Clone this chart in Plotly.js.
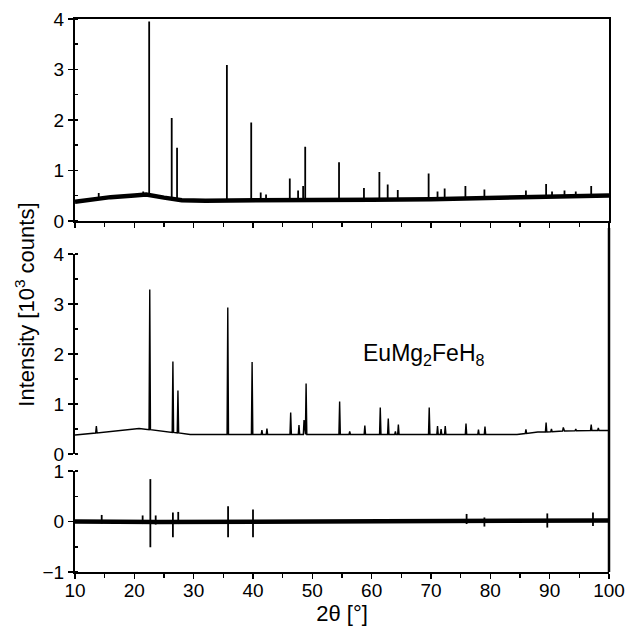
<!DOCTYPE html>
<html>
<head>
<meta charset="utf-8">
<script src="https://cdn.plot.ly/plotly-3.0.1.min.js"></script>
<style>html,body{margin:0;padding:0;background:#fff;}#chart{width:626px;height:628px;}</style>
</head>
<body>
<div id="chart"></div>
<script>
// ---- Observed pattern (top panel) ----
const obsBgX = [10, 13, 16, 20, 22, 25, 28, 32, 40, 50, 60, 70, 80, 85, 88, 92, 96, 100];
const obsBgY = [0.38, 0.42, 0.47, 0.50, 0.52, 0.46, 0.41, 0.40, 0.40, 0.41, 0.42, 0.43, 0.45, 0.46, 0.48, 0.49, 0.50, 0.50];
const obsPeakX = [14.0, 21.5, 22.5, 26.3, 27.2, 35.6, 39.7, 41.3, 42.2, 46.2, 47.6, 48.45, 48.8, 54.5, 58.7, 61.3, 62.7, 64.4, 69.6, 71.1, 72.3, 75.8, 79.0, 86.0, 89.4, 90.4, 92.5, 94.4, 97.0];
const obsPeakY = [0.55, 0.58, 3.95, 2.04, 1.45, 3.09, 1.95, 0.56, 0.52, 0.84, 0.60, 0.69, 1.47, 1.16, 0.65, 0.97, 0.72, 0.61, 0.94, 0.58, 0.64, 0.69, 0.62, 0.60, 0.73, 0.58, 0.60, 0.58, 0.69];
const obsPeakBase = [0.45, 0.52, 0.52, 0.45, 0.44, 0.40, 0.40, 0.40, 0.40, 0.40, 0.40, 0.41, 0.41, 0.41, 0.41, 0.42, 0.42, 0.42, 0.43, 0.43, 0.43, 0.44, 0.45, 0.46, 0.48, 0.48, 0.49, 0.49, 0.50];

// ---- Calculated pattern (middle panel) ----
const calcBgX = [10, 20.8, 29.4, 84.5, 88, 92.5, 100];
const calcBgY = [0.38, 0.51, 0.39, 0.39, 0.44, 0.46, 0.47];
const calcPeakX = [13.6, 22.6, 26.5, 27.35, 35.75, 39.85, 41.5, 42.35, 46.35, 47.75, 48.6, 48.95, 54.6, 56.3, 58.85, 61.45, 62.8, 64.0, 64.5, 69.7, 71.1, 71.7, 72.4, 75.9, 78.0, 79.1, 86.0, 89.4, 90.3, 92.3, 94.4, 97.0, 98.2];
const calcPeakY = [0.56, 3.29, 1.85, 1.27, 2.93, 1.84, 0.48, 0.51, 0.83, 0.58, 0.68, 1.41, 1.05, 0.45, 0.57, 0.93, 0.71, 0.45, 0.59, 0.93, 0.56, 0.50, 0.56, 0.61, 0.49, 0.55, 0.49, 0.63, 0.50, 0.53, 0.50, 0.59, 0.52];
const calcPeakBase = [0.42, 0.485, 0.43, 0.42, 0.39, 0.39, 0.39, 0.39, 0.39, 0.39, 0.39, 0.39, 0.39, 0.39, 0.39, 0.39, 0.39, 0.39, 0.39, 0.39, 0.39, 0.39, 0.39, 0.39, 0.39, 0.39, 0.41, 0.44, 0.445, 0.46, 0.465, 0.47, 0.47];

// ---- Difference curve (bottom panel) ----
const diffBgX = [10, 21, 24, 100];
const diffBgY = [0.0, -0.02, -0.01, 0.02];
const diffSpikeX = [14.5, 21.4, 22.7, 23.6, 26.5, 27.4, 35.8, 40.0, 76.0, 79.0, 89.6, 97.3];
const diffSpikeHi = [0.13, 0.12, 0.84, 0.12, 0.18, 0.19, 0.30, 0.24, 0.15, 0.08, 0.16, 0.18];
const diffSpikeLo = [-0.04, -0.05, -0.51, -0.06, -0.31, -0.05, -0.31, -0.31, -0.05, -0.10, -0.12, -0.09];

// ---- Axis ticks ----
const xTicks = [10, 20, 30, 40, 50, 60, 70, 80, 90, 100];
const yTicksI = [0, 1, 2, 3, 4];
const yTicksD = [-1, 0, 1];

// spikes as vertical segments separated by gaps
function spikes(xs, lo, hi) {
  const X = [], Y = [];
  xs.forEach((x, i) => { X.push(x, x, null); Y.push(lo[i], hi[i], null); });
  return {X, Y};
}
const obsSp = spikes(obsPeakX, obsPeakBase, obsPeakY);
const difSp = spikes(diffSpikeX, diffSpikeLo, diffSpikeHi);

// calculated: merge background knots with narrow triangular peaks
const HW = 0.12;
const calcPts = [];
calcBgX.forEach((x, i) => calcPts.push([x, calcBgY[i]]));
calcPeakX.forEach((x, i) => {
  calcPts.push([x - HW, calcPeakBase[i]]);
  calcPts.push([x, calcPeakY[i]]);
  calcPts.push([x + HW, calcPeakBase[i]]);
});
calcPts.sort((a, b) => a[0] - b[0]);

const black = '#000';
const FONT = 'Liberation Sans, Arial, Helvetica, sans-serif';
const traces = [
  {x: obsBgX, y: obsBgY, xaxis: 'x2', yaxis: 'y', mode: 'lines', line: {color: black, width: 4.5}, hoverinfo: 'skip'},
  {x: obsSp.X, y: obsSp.Y, xaxis: 'x2', yaxis: 'y', mode: 'lines', line: {color: black, width: 1.8}, connectgaps: false, hoverinfo: 'skip'},
  {x: calcPts.map(p => p[0]), y: calcPts.map(p => p[1]), xaxis: 'x', yaxis: 'y2', mode: 'lines', line: {color: black, width: 1.4}, hoverinfo: 'skip'},
  {x: diffBgX, y: diffBgY, xaxis: 'x', yaxis: 'y3', mode: 'lines', line: {color: black, width: 4.5}, hoverinfo: 'skip'},
  {x: difSp.X, y: difSp.Y, xaxis: 'x', yaxis: 'y3', mode: 'lines', line: {color: black, width: 1.8}, connectgaps: false, hoverinfo: 'skip'}
];

const tickFont = {family: FONT, size: 19, color: black};
const xCommon = {
  range: [10, 100], tickvals: xTicks, ticks: 'outside', ticklen: 5, tickwidth: 1.5, tickcolor: black,
  minor: {dtick: 5, tick0: 10, ticks: 'outside', ticklen: 4, tickwidth: 1.5, tickcolor: black},
  showline: true, linecolor: black, linewidth: 2, showgrid: false, zeroline: false, tickfont: tickFont,
  ticklabelstandoff: -5
};
const yCommon = {
  ticks: 'outside', ticklen: 5, tickwidth: 1.5, tickcolor: black,
  showline: true, linecolor: black, linewidth: 2, showgrid: false, zeroline: false, tickfont: tickFont
};
const yMinor = {dtick: 0.5, tick0: 0, ticks: 'inside', ticklen: 3, tickwidth: 1.5, tickcolor: black};

const layout = {
  width: 626, height: 628,
  margin: {l: 75, r: 17, t: 19, b: 56},
  paper_bgcolor: '#fff', plot_bgcolor: '#fff',
  showlegend: false,
  xaxis: Object.assign({}, xCommon, {domain: [0, 1], anchor: 'y3',
    title: {text: '2θ [°]', font: {family: FONT, size: 22, color: black}, standoff: 0}}),
  xaxis2: Object.assign({}, xCommon, {domain: [0, 1], anchor: 'y', showticklabels: false, mirror: true}),
  yaxis: Object.assign({}, yCommon, {domain: [0.635, 1], range: [0, 4], tickvals: yTicksI, anchor: 'x2', mirror: true, minor: yMinor}),
  yaxis2: Object.assign({}, yCommon, {domain: [0.2134, 0.575], range: [0, 4], tickvals: yTicksI, anchor: 'x', minor: yMinor}),
  yaxis3: Object.assign({}, yCommon, {domain: [0, 0.1826], range: [-1, 1], tickvals: yTicksD, anchor: 'x', minor: yMinor}),
  shapes: [
    {type: 'line', xref: 'paper', yref: 'paper', x0: 1, x1: 1, y0: 0, y1: 0.622, line: {color: black, width: 2.5}}
  ],
  annotations: [
    {text: 'EuMg<sub>2</sub>FeH<sub>8</sub>', xref: 'x', yref: 'y2', x: 58.2, y: 2.0, xanchor: 'left', yanchor: 'middle',
     showarrow: false, font: {family: FONT, size: 23, color: black}},
    {text: 'Intensity [10<sup>3</sup> counts]', xref: 'paper', yref: 'paper', x: -0.094, y: 0.483, xanchor: 'center', yanchor: 'middle',
     textangle: -90, showarrow: false, font: {family: FONT, size: 22, color: black}}
  ]
};

Plotly.newPlot('chart', traces, layout, {staticPlot: true, displayModeBar: false});
</script>
</body>
</html>
